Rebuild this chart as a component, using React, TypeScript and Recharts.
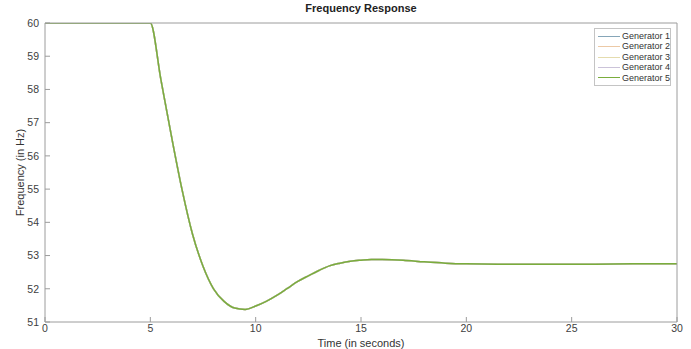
import React from 'react'
import { Line, LineChart, XAxis, YAxis } from 'recharts'

const time = [0, 5, 5.5, 6, 6.5, 7, 7.5, 8, 8.5, 9, 9.5, 10, 10.5, 11, 11.5, 12, 12.5, 13, 13.5, 14, 14.5, 15, 15.5, 16, 17, 18, 19, 20, 22, 24, 26, 28, 30]

const gen1 = [60, 60, 58.3, 56.6, 55.0, 53.65, 52.68, 52.0, 51.62, 51.42, 51.38, 51.48, 51.62, 51.8, 52.01, 52.22, 52.39, 52.55, 52.69, 52.77, 52.83, 52.86, 52.88, 52.88, 52.86, 52.81, 52.77, 52.75, 52.74, 52.74, 52.74, 52.75, 52.75]
const gen2 = [60, 60, 58.28, 56.6, 55.0, 53.65, 52.68, 52.0, 51.62, 51.42, 51.38, 51.48, 51.62, 51.8, 52.01, 52.22, 52.39, 52.55, 52.69, 52.77, 52.83, 52.86, 52.88, 52.88, 52.86, 52.81, 52.77, 52.75, 52.74, 52.74, 52.74, 52.75, 52.75]
const gen3 = [60, 60, 58.3, 56.6, 55.0, 53.65, 52.68, 52.0, 51.62, 51.42, 51.38, 51.48, 51.62, 51.8, 52.01, 52.22, 52.39, 52.55, 52.69, 52.77, 52.83, 52.86, 52.88, 52.88, 52.86, 52.81, 52.77, 52.75, 52.74, 52.74, 52.74, 52.75, 52.75]
const gen4 = [60, 60, 58.3, 56.6, 55.0, 53.65, 52.68, 52.0, 51.62, 51.42, 51.38, 51.48, 51.62, 51.8, 52.01, 52.22, 52.39, 52.55, 52.69, 52.77, 52.83, 52.86, 52.88, 52.88, 52.86, 52.81, 52.77, 52.75, 52.74, 52.74, 52.74, 52.75, 52.75]
const gen5 = [60, 60, 58.3, 56.6, 55.0, 53.65, 52.68, 52.0, 51.62, 51.42, 51.38, 51.48, 51.62, 51.8, 52.01, 52.22, 52.39, 52.55, 52.69, 52.77, 52.83, 52.86, 52.88, 52.88, 52.86, 52.81, 52.77, 52.75, 52.74, 52.74, 52.74, 52.75, 52.75]

const xTicks = [0, 5, 10, 15, 20, 25, 30]
const yTicks = [51, 52, 53, 54, 55, 56, 57, 58, 59, 60]

const series = [
  { key: 'g1', name: 'Generator 1', color: '#86a6b8' },
  { key: 'g2', name: 'Generator 2', color: '#ecc9a6' },
  { key: 'g3', name: 'Generator 3', color: '#e4dcae' },
  { key: 'g4', name: 'Generator 4', color: '#cbc3d9' },
  { key: 'g5', name: 'Generator 5', color: '#7aad3c' },
]

const data = time.map((t, i) => ({ t, g1: gen1[i], g2: gen2[i], g3: gen3[i], g4: gen4[i], g5: gen5[i] }))

const axisColor = '#9c9c9c'
const font = '"Liberation Sans", Arial, sans-serif'
const tickStyle = { fontSize: 10.5, fill: '#404040', fontFamily: font }

// legend sits inside the plot box, top right, like matlab
const LegendBox = () => (
  <div
    style={{
      position: 'absolute',
      left: 594,
      top: 28,
      width: 72,
      border: '1px solid #c4c4c4',
      background: '#fff',
      padding: '2px 0 2px 3px',
      fontFamily: font,
      fontSize: 9,
      color: '#333',
      lineHeight: '10.4px',
    }}
  >
    {series.map((s) => (
      <div key={s.key} style={{ display: 'flex', alignItems: 'center', whiteSpace: 'nowrap' }}>
        <span style={{ display: 'inline-block', width: 25, height: 1, background: s.color, marginRight: 2 }} />
        <span>{s.name}</span>
      </div>
    ))}
  </div>
)

export default function App() {
  return (
    <div style={{ position: 'absolute', left: 0, top: 0, width: 691, height: 349, background: '#fff' }}>
      <div
        style={{
          position: 'absolute',
          left: 45,
          width: 632,
          top: 2,
          textAlign: 'center',
          fontFamily: font,
          fontSize: 11,
          fontWeight: 'bold',
          color: '#222',
        }}
      >
        Frequency Response
      </div>
      <LineChart width={691} height={349} data={data} margin={{ top: 22, right: 13, left: 0, bottom: 0 }}>
        <XAxis
          xAxisId="b"
          dataKey="t"
          type="number"
          domain={[0, 30]}
          ticks={xTicks}
          orientation="bottom"
          height={27}
          stroke={axisColor}
          tickSize={-5}
          tickMargin={8}
          tick={tickStyle}
          allowDataOverflow
          label={{ value: 'Time (in seconds)', position: 'insideBottom', offset: 2, style: { ...tickStyle, fontSize: 11, fill: '#333' } }}
        />
        <XAxis
          xAxisId="t"
          dataKey="t"
          type="number"
          domain={[0, 30]}
          ticks={xTicks}
          orientation="top"
          height={1}
          stroke={axisColor}
          tickSize={-5}
          tick={false}
          allowDataOverflow
        />
        <YAxis
          yAxisId="l"
          type="number"
          domain={[51, 60]}
          ticks={yTicks}
          width={45}
          stroke={axisColor}
          tickSize={-5}
          tickMargin={11}
          tick={tickStyle}
          allowDataOverflow
          label={{ value: 'Frequency (in Hz)', angle: -90, position: 'insideLeft', offset: 20, style: { ...tickStyle, fontSize: 11, fill: '#333', textAnchor: 'middle' } }}
        />
        <YAxis
          yAxisId="r"
          type="number"
          domain={[51, 60]}
          ticks={yTicks}
          orientation="right"
          width={1}
          stroke={axisColor}
          tickSize={-5}
          tick={false}
          allowDataOverflow
        />
        {series.map((s) => (
          <Line
            key={s.key}
            xAxisId="b"
            yAxisId="l"
            type="monotone"
            dataKey={s.key}
            name={s.name}
            stroke={s.color}
            strokeWidth={1.5}
            dot={false}
            isAnimationActive={false}
          />
        ))}
      </LineChart>
      <LegendBox />
    </div>
  )
}
